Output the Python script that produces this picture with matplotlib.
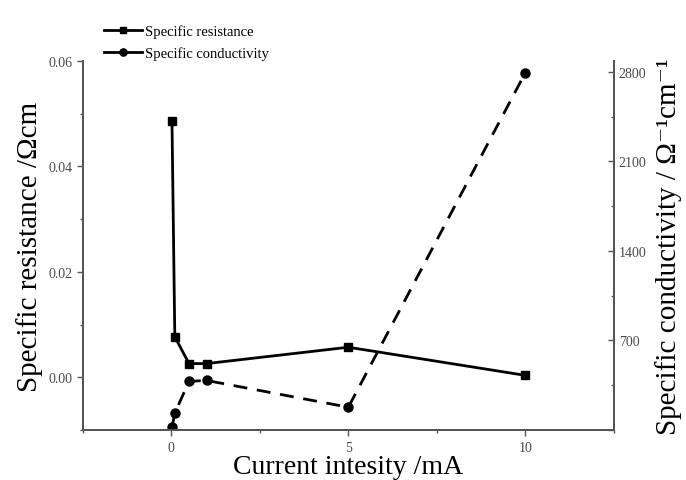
import numpy as np
import matplotlib
matplotlib.use('Agg')
import matplotlib.pyplot as plt
from matplotlib.ticker import MultipleLocator

plt.rcParams['font.family'] = ['Liberation Serif', 'DejaVu Serif']

# values
current = [0.02, 0.1, 0.5, 1, 5, 10]
resistance = [0.0486, 0.0077, 0.0026, 0.0026, 0.0057, 0.00036]
conductivity = [20, 132, 380, 387, 178, 2795]

grey = '#555555'

fig = plt.figure(figsize=(6.86, 4.81), dpi=100)
ax = fig.add_axes([0.1206, 0.104, 0.7744, 0.767])
ax2 = ax.twinx()

l1, = ax.plot(current, resistance, '-', color='black', lw=2.0,
              marker='s', ms=5.5, label='Specific resistance')
l2, = ax2.plot(current, conductivity, '--', color='black', lw=2.0,
               dashes=(5, 3.5), marker='o', ms=6.5, label='Specific conductivity')

ax.set_xlim(-2.5, 12.5)
ax.set_ylim(-0.01, 0.06)
ax2.set_ylim(0, 2885)

ax.xaxis.set_major_locator(MultipleLocator(5))
ax.xaxis.set_minor_locator(MultipleLocator(2.5))
ax.yaxis.set_major_locator(MultipleLocator(0.02))
ax.yaxis.set_minor_locator(MultipleLocator(0.01))
ax.yaxis.set_major_formatter(matplotlib.ticker.FormatStrFormatter('%.2f'))
ax2.yaxis.set_major_locator(MultipleLocator(700))
ax2.yaxis.set_minor_locator(MultipleLocator(350))
ax2.yaxis.set_major_formatter(matplotlib.ticker.FuncFormatter(
    lambda v, p: '' if v == 0 else '%d' % v))

for a in (ax, ax2):
    a.spines['top'].set_visible(False)
    for s in a.spines.values():
        s.set_color(grey)
        s.set_linewidth(1.4)

ax.tick_params(axis='both', which='both', direction='out', colors=grey,
               labelcolor='#4a4a4a', labelsize=10, width=1.0)
ax.tick_params(which='major', length=4)
ax.tick_params(which='minor', length=2.5)
ax.tick_params(axis='x', pad=4)
ax2.tick_params(axis='y', which='both', direction='in', colors=grey,
                labelcolor='#4a4a4a', labelsize=10, width=1.0)
ax2.tick_params(which='major', length=4)
ax2.tick_params(which='minor', length=2.5)

ax.set_xlabel('Current intesity /mA', fontsize=20, labelpad=0)
ax.set_ylabel('Specific resistance /\u03a9cm', fontsize=21, labelpad=4)
ax2.set_ylabel('Specific conductivity / \u03a9\u207b\u00b9cm\u207b\u00b9',
               fontsize=21, labelpad=6)

leg = fig.legend(handles=[l1, l2], loc='upper left',
                 bbox_to_anchor=(0.132, 0.975), frameon=False,
                 fontsize=10.5, handlelength=2.6, handletextpad=0.2,
                 labelspacing=0.55, markerscale=0.8)
for h in leg.get_lines():
    h.set_linestyle('-')

plt.savefig('out.png', dpi=100)
